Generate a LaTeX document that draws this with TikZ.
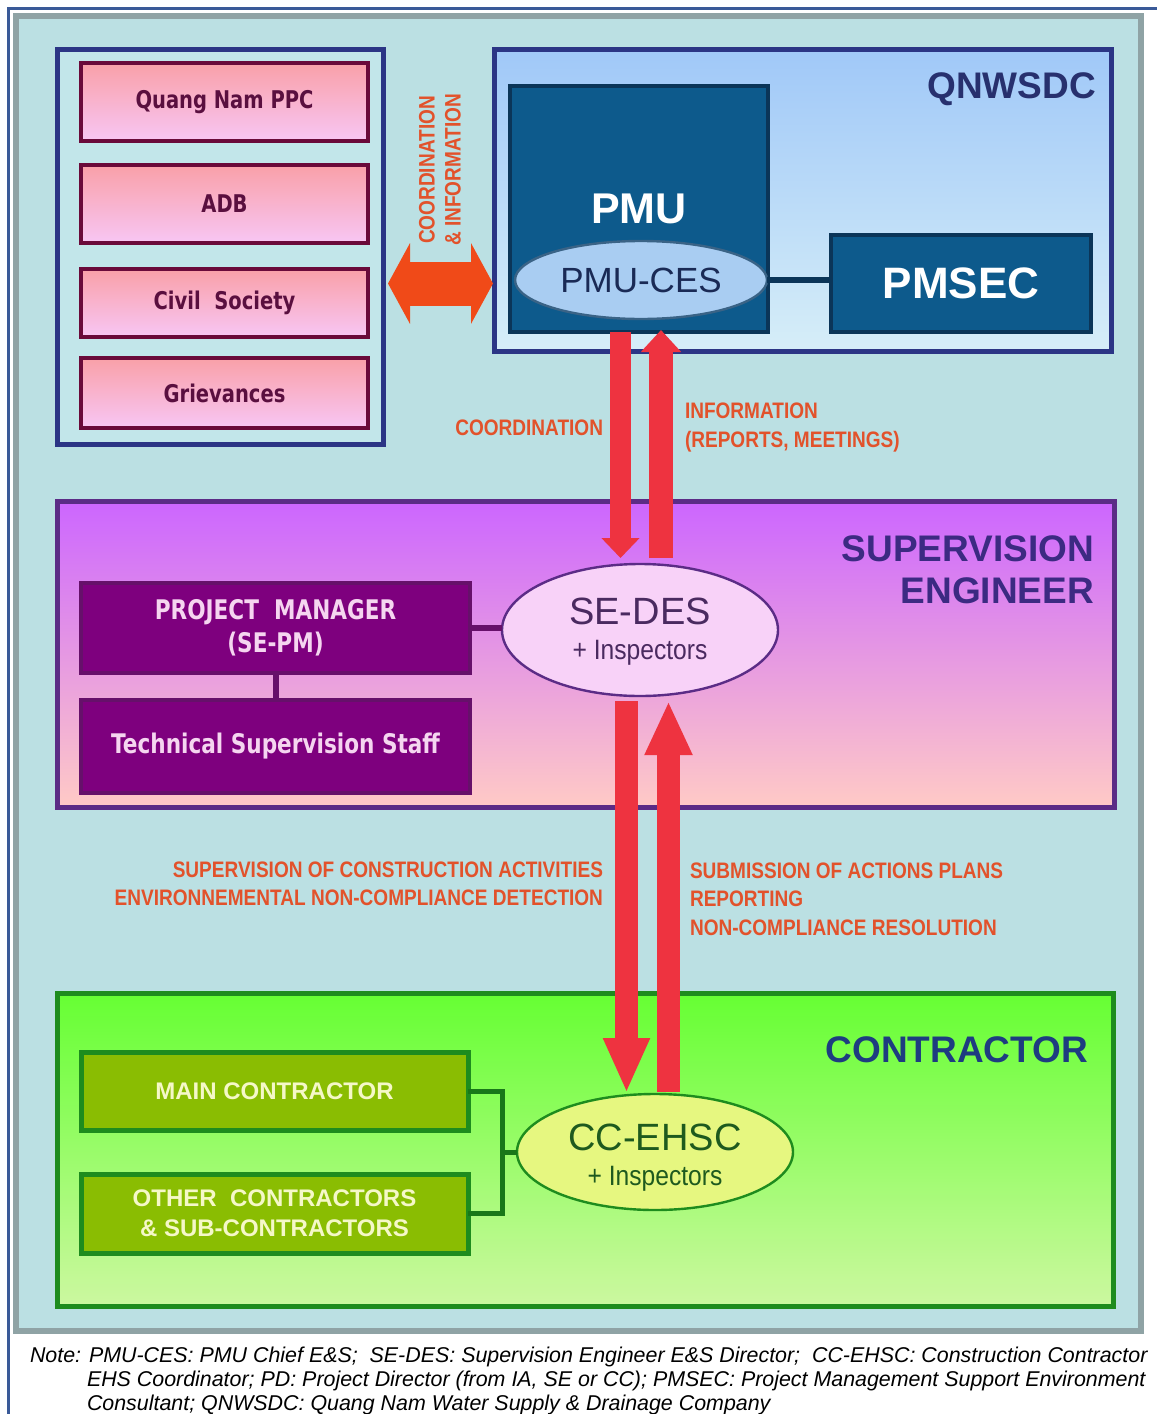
\documentclass[tikz,border=0pt]{standalone}
\usepackage{fontspec}
\setmainfont{Liberation Sans}
\newfontfamily\fA{Liberation Sans}
\newfontfamily\fN[FakeStretch=0.85]{Liberation Sans}
\newfontfamily\fIn[FakeStretch=0.88]{Liberation Sans}
\newfontfamily\fT[FakeStretch=0.8]{DejaVu Sans}
\newcommand\fsz[2]{\fontsize{#1pt}{#2pt}\selectfont}
\usetikzlibrary{arrows.meta,calc,shapes.geometric}
\definecolor{pagerule}{HTML}{3A5A98}
\definecolor{panelbg}{HTML}{BBE0E3}
\definecolor{panelbd}{HTML}{8FA3A5}
\definecolor{navy}{HTML}{2B3585}
\definecolor{leftfill}{HTML}{C2E6EA}
\definecolor{pinkbd}{HTML}{6A0A3A}
\definecolor{pinktop}{HTML}{F9A0A8}
\definecolor{pinkbot}{HTML}{F8C6F4}
\definecolor{pinktext}{HTML}{5A0F3F}
\definecolor{qtop}{HTML}{A0C8F8}
\definecolor{qbot}{HTML}{D6EEF8}
\definecolor{qtext}{HTML}{27306E}
\definecolor{pmufill}{HTML}{0D5A8C}
\definecolor{pmubd}{HTML}{0B3558}
\definecolor{cesfill}{HTML}{A9CDF2}
\definecolor{cestext}{HTML}{1A2A55}
\definecolor{setop}{HTML}{CC66FF}
\definecolor{sebot}{HTML}{FFCAC6}
\definecolor{sebd}{HTML}{5B2C86}
\definecolor{setext}{HTML}{3C2A82}
\definecolor{pmfill}{HTML}{7E007E}
\definecolor{pmbd}{HTML}{66106A}
\definecolor{pmtext}{HTML}{F5D5F0}
\definecolor{sedesfill}{HTML}{F8D2F8}
\definecolor{sedestext}{HTML}{4A2A60}
\definecolor{arrred}{HTML}{EE3340}
\definecolor{arrorange}{HTML}{F04A18}
\definecolor{lblorange}{HTML}{E2522B}
\definecolor{contop}{HTML}{66FF33}
\definecolor{conbot}{HTML}{CCF8A0}
\definecolor{conbd}{HTML}{1E8C1E}
\definecolor{contxt}{HTML}{1E3C80}
\definecolor{mcfill}{HTML}{8ABD02}
\definecolor{mctext}{HTML}{F5F8C8}
\definecolor{ccfill}{HTML}{E6F780}
\definecolor{cctext}{HTML}{1E5A1E}
\tikzset{
  grp/.style={draw=#1, line width=2.5pt},
  pinkbox/.style={draw=pinkbd, line width=2pt, top color=pinktop, bottom color=pinkbot,
    minimum width=143.5pt, font=\fT\bfseries\fsz{12.2}{14}, text=pinktext},
  darkbox/.style={draw=pmubd, line width=2pt, fill=pmufill, text=white},
  purbox/.style={draw=pmbd, line width=2pt, fill=pmfill, text=pmtext, align=center,
    minimum width=194.5pt, font=\fT\bfseries\fsz{13.5}{16.5}},
  greenbox/.style={draw=conbd, line width=2.5pt, fill=mcfill, text=mctext, align=center,
    minimum width=193.5pt, font=\fA\bfseries\fsz{12}{15}},
  oval/.style={ellipse, line width=1.2pt, align=center},
  olbl/.style={font=\fN\bfseries\fsz{11.2}{14.25}, text=lblorange},
  biglbl/.style={font=\fA\bfseries\fsz{18.5}{21}},
  navyconn/.style={draw=pmubd, line width=3pt},
  purconn/.style={draw=pmbd, line width=3pt},
  grnconn/.style={draw=conbd!85!black, line width=2.5pt},
  redarr/.style={draw=arrred},
  notetxt/.style={font=\fA\itshape\fsz{10.7}{12}, anchor=west}
}
\begin{document}
\begin{tikzpicture}[x=0.5pt,y=-0.5pt, every node/.style={inner sep=0pt, outer sep=0pt}]
\useasboundingbox (0,0) rectangle (1157,1414);
\fill[white] (0,0) rectangle (1157,1414);
\draw[pagerule, line width=1.5pt] (8,1414) -- (8,8) -- (1157,8);
\draw[panelbd, line width=3pt, fill=panelbg] (16,16) rectangle (1141,1331);

% left group
\node[grp=navy, fill=leftfill, minimum width=163pt, minimum height=197.5pt] (leftgrp) at (220,246.5) {};
\node[pinkbox, minimum height=39pt] (qpc) at (224.5,102) {Quang Nam PPC};
\node[pinkbox, minimum height=39pt] (adb) at (224.5,204) {ADB};
\node[pinkbox, minimum height=34pt] (civ) at (224.5,303) {Civil\ \ Society};
\node[pinkbox, minimum height=35pt] (grv) at (224.5,393) {Grievances};

% QNWSDC group
\node[grp=navy, top color=qtop, bottom color=qbot, minimum width=308.5pt, minimum height=151pt] (qgrp) at (802.5,200) {};
\node[biglbl, text=qtext, anchor=east] (qlbl) at (1096,89) {QNWSDC};
\node[darkbox, minimum width=129pt, minimum height=123pt, font=\fA\bfseries\fsz{21.5}{24}] (pmu) at (639,209) {PMU};
\node[oval, draw=pmubd!70!cesfill, fill=cesfill, text=cestext, minimum width=126pt, minimum height=39pt, font=\fA\fsz{17.5}{20}] (pmuces) at (641,280) {PMU-CES};
\node[darkbox, minimum width=130pt, minimum height=48.5pt, font=\fA\bfseries\fsz{22}{24}] (pmsec) at (961,283.5) {PMSEC};
\draw[navyconn] (pmuces.east) -- (pmuces.east -| pmsec.west);

% Supervision engineer group
\node[grp=sebd, top color=setop, bottom color=sebot, minimum width=528.5pt, minimum height=153pt] (segrp) at (585.5,654) {};
\node[biglbl, text=setext, anchor=east, align=right] (selbl) at (1094,570) {SUPERVISION\\ENGINEER};
\node[purbox, minimum height=45pt] (pm) at (275.5,628) {PROJECT\ \ MANAGER\\(SE-PM)};
\node[purbox, minimum height=46.5pt] (tss) at (275.5,746.5) {Technical Supervision Staff};
\node[oval, draw=sebd, fill=sedesfill, minimum width=138pt, minimum height=66pt] (sedes) at (640,630) {};
\node[text=sedestext, font=\fA\fsz{19}{20}] (sedest) at (640,611) {SE-DES};
\node[text=sedestext, font=\fIn\fsz{14}{16}] (sedesi) at (640,653) {+ Inspectors};
\draw[purconn] (pm.east) -- (pm.east -| sedes.west);
\draw[purconn] (pm.south) -- (tss.north);

% Contractor group
\node[grp=conbd, top color=contop, bottom color=conbot, minimum width=528pt, minimum height=156.5pt] (congrp) at (585,1149.5) {};
\node[biglbl, text=contxt, anchor=east] (conlbl) at (1088,1050) {CONTRACTOR};
\node[greenbox, minimum height=39pt] (mc) at (274.5,1091) {MAIN CONTRACTOR};
\node[greenbox, minimum height=39.5pt] (oc) at (274.5,1213.5) {OTHER\ \ CONTRACTORS\\\&\ SUB-CONTRACTORS};
\node[oval, draw=conbd, fill=ccfill, minimum width=138pt, minimum height=58pt] (cc) at (655,1152) {};
\node[text=cctext, font=\fA\fsz{19}{20}] (cct) at (655,1137) {CC-EHSC};
\node[text=cctext, font=\fIn\fsz{14}{16}] (cci) at (655,1179) {+ Inspectors};
\coordinate (brk) at (502,1152);
\draw[grnconn] (mc.east) -| (brk) |- (oc.east);
\draw[grnconn] (brk) -- (cc.west);

% coordination double arrow
\draw[draw=arrorange, line width=22pt, {Triangle[length=11pt,width=40pt]}-{Triangle[length=11pt,width=40pt]}]
  ($(leftgrp.east |- pmsec.center)+(5,0)$) -- ($(qgrp.west |- pmsec.center)+(-1,0)$);
\node[olbl, rotate=90] (rc1) at (427,170) {COORDINATION};
\node[olbl, rotate=90] (rc2) at (453,170) {\&\ INFORMATION};

% vertical red arrows upper
\draw[redarr, line width=10.5pt, -{Triangle[length=10pt,width=18.5pt]}]
  ($(pmu.south)+(-18.5,0)$) -- ($(sedes.north)+(-19.5,-6)$);
\draw[redarr, line width=12pt, -{Triangle[length=11pt,width=19.5pt]}]
  ($(sedes.north)+(21,-6)$) -- ($(pmu.south)+(22,-2)$);
\node[olbl, anchor=east] (coordlbl) at (603,428) {COORDINATION};
\node[olbl, anchor=west, align=left] (infolbl) at (685,427.5) {INFORMATION\\(REPORTS, MEETINGS)};

% vertical red arrows lower
\draw[redarr, line width=11.5pt, -{Triangle[length=27.5pt,width=21.5pt]}]
  ($(sedes.south)+(-13.5,5)$) -- ($(cc.north)+(-28.5,-1)$);
\draw[redarr, line width=11.5pt, -{Triangle[length=27pt,width=22pt]}]
  ($(cc.north)+(13.5,-2)$) -- ($(sedes.south)+(28.5,5)$);
\node[olbl, anchor=east, align=right] (suplbl) at (603,884) {SUPERVISION OF CONSTRUCTION ACTIVITIES\\ENVIRONNEMENTAL NON-COMPLIANCE DETECTION};
\node[olbl, anchor=west, align=left] (sublbl) at (690,899) {SUBMISSION OF ACTIONS PLANS\\REPORTING\\NON-COMPLIANCE RESOLUTION};

% note
\node[notetxt] (n1) at (30,1357) {Note: PMU-CES: PMU Chief E\&S;\ \ SE-DES: Supervision Engineer E\&S Director;\ \ CC-EHSC: Construction Contractor};
\node[notetxt] (n2) at (87,1381) {EHS Coordinator; PD: Project Director (from IA, SE or CC); PMSEC: Project Management Support Environment};
\node[notetxt] (n3) at (87,1405) {Consultant; QNWSDC: Quang Nam Water Supply \& Drainage Company};
\end{tikzpicture}
\end{document}
